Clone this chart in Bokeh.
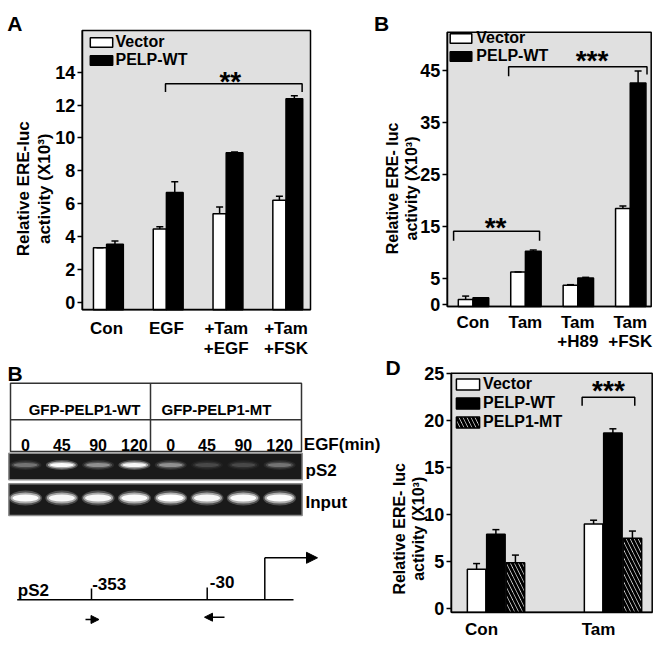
import numpy as np
from bokeh.plotting import figure
from bokeh.models import (Range1d, FixedTicker, Whisker, TeeHead, ColumnDataSource,
                          Legend, LegendItem, LinearAxis, Arrow, NormalHead)
from bokeh.core.properties import value
from bokeh.embed import file_html
from bokeh.resources import INLINE

FONT = "Liberation Sans"
FRAME_BG = "#e0e0e0"

# ---------------- data: panel A ----------------
a_categories = ["Con", "EGF", "+Tam\n+EGF", "+Tam\n+FSK"]
a_vector = [3.33, 4.47, 5.39, 6.22]
a_vector_err = [0.0, 0.13, 0.42, 0.24]
a_pelp = [3.54, 6.69, 9.10, 12.38]
a_pelp_err = [0.20, 0.65, 0.05, 0.18]
a_yticks = [0, 2, 4, 6, 8, 10, 12, 14]

# ---------------- data: panel B (top right) ----------------
b_categories = ["Con", "Tam", "Tam\n+H89", "Tam\n+FSK"]
b_vector = [1.03, 6.30, 3.73, 18.5]
b_vector_err = [0.64, 0.0, 0.13, 0.45]
b_pelp = [1.35, 10.3, 5.14, 42.6]
b_pelp_err = [0.0, 0.2, 0.13, 2.3]
b_yticks = [0, 5, 15, 25, 35, 45]

# ---------------- data: panel D ----------------
d_categories = ["Con", "Tam"]
d_vector = [4.2, 9.0]
d_vector_err = [0.6, 0.4]
d_pelp = [7.9, 18.65]
d_pelp_err = [0.5, 0.45]
d_mt = [4.9, 7.5]
d_mt_err = [0.8, 0.75]
d_yticks = [0, 5, 10, 15, 20, 25]

# ---------------- data: ChIP gel ----------------
gel_groups = ["GFP-PELP1-WT", "GFP-PELP1-MT"]
gel_lanes = ["0", "45", "90", "120", "0", "45", "90", "120"]
ps2_intensity = [0.25, 0.95, 0.35, 0.90, 0.35, 0.12, 0.12, 0.25]
input_intensity = [0.95, 0.90, 0.90, 0.95, 1.0, 0.90, 0.95, 0.95]
primer_labels = ["-353", "-30"]

# ---------------- page canvas (page pixel coordinates) ----------------
PX0, PX1, PY0, PY1 = 0, 660, 0, 648
p = figure(width=PX1 - PX0, height=PY1 - PY0, min_border=0,
           x_range=Range1d(PX0, PX1), y_range=Range1d(PY1, PY0),
           x_axis_location=None, y_axis_location=None, outline_line_color=None,
           output_backend="svg", toolbar_location=None)
p.grid.visible = False
p.title.visible = False

# panel frames on the page: (left, right, top, bottom) and data extents at those edges
panels = {
    "A": dict(box=(81.7, 310.0, 30.0, 309.3), xv=(-0.408, 3.41), yv=(-0.44, 16.53)),
    "B": dict(box=(446.7, 650.7, 31.7, 306.0), xv=(-0.492, 3.40), yv=(-0.33, 52.34)),
    "D": dict(box=(450.7, 651.7, 372.7, 611.7), xv=(-0.259, 1.459), yv=(-0.36, 25.0)),
}

xr, yr = {}, {}
for name, cfg in panels.items():
    l, r, t, b = cfg["box"]
    (x0, x1), (y0, y1) = cfg["xv"], cfg["yv"]
    sx = (r - l) / (x1 - x0)
    sy = (b - t) / (y1 - y0)
    xr[name] = Range1d(x0 - (l - PX0) / sx, x1 + (PX1 - r) / sx)
    yr[name] = Range1d(y0 - (PY1 - b) / sy, y1 + (t - PY0) / sy)
p.extra_x_ranges = xr
p.extra_y_ranges = yr


def style_axis(ax, size="17px"):
    ax.minor_tick_line_color = None
    ax.major_tick_in = 0
    ax.axis_line_width = 1.5
    ax.major_tick_line_width = 1.5
    ax.major_label_text_font = FONT
    ax.major_label_text_font_style = "bold"
    ax.major_label_text_font_size = size
    ax.major_label_text_color = "black"


def make_panel(name, categories, yticks, x_standoff):
    cfg = panels[name]
    (x0, x1), (y0, y1) = cfg["xv"], cfg["yv"]
    p.quad(left=[x0], right=[x1], bottom=[y0], top=[y1], x_range_name=name,
           y_range_name=name, fill_color=FRAME_BG, line_color="black", line_width=1.5)
    yax = LinearAxis(x_range_name=name, y_range_name=name, fixed_location=x0,
                     bounds=(y0, y1), ticker=FixedTicker(ticks=yticks))
    style_axis(yax, "18px")
    yax.major_tick_out = 5
    yax.major_label_standoff = 2
    p.add_layout(yax, "left")
    xax = LinearAxis(x_range_name=name, y_range_name=name, fixed_location=y0,
                     bounds=(x0, x1), ticker=FixedTicker(ticks=list(range(len(categories)))))
    style_axis(xax, "17px")
    xax.major_label_overrides = {i: c for i, c in enumerate(categories)}
    xax.major_tick_out = 0
    xax.major_label_standoff = x_standoff
    xax.major_label_text_line_height = 1.05
    p.add_layout(xax, "below")


def add_bars(name, vals, errs, offset, width, **style):
    x = np.arange(len(vals)) + offset
    r = p.vbar(x=x, top=vals, bottom=panels[name]["yv"][0], width=width, line_width=1.5,
               line_color="black", x_range_name=name, y_range_name=name, **style)
    src = ColumnDataSource(dict(x=x, lower=vals, upper=np.array(vals) + np.array(errs)))
    p.add_layout(Whisker(base="x", lower="lower", upper="upper", source=src,
                         x_range_name=name, y_range_name=name, level="overlay",
                         dimension="height", line_width=1.5, line_color="black",
                         lower_head=None,
                         upper_head=TeeHead(size=7, line_width=1.5, line_color="black")))
    return r


def add_bracket(name, x0, x1, y, drop_l, drop_r, text, text_x, y_offset):
    p.line([x0, x0, x1, x1], [y - drop_l, y, y, y - drop_r], line_color="black",
           line_width=1.5, x_range_name=name, y_range_name=name)
    p.text(x=[text_x], y=[y], text=[text], text_font=value(FONT), text_font_style="bold",
           text_font_size="28px", text_align="center", text_baseline="alphabetic",
           y_offset=y_offset, text_color="black", x_range_name=name, y_range_name=name)


def add_legend(items, page_left, page_bottom, gw, gh, lh, standoff):
    lg = Legend(items=[LegendItem(label=l, renderers=[r]) for l, r in items],
                location=(page_left - PX0, PY1 - page_bottom), margin=0, padding=0,
                spacing=0, glyph_width=gw, glyph_height=gh, label_height=lh,
                label_standoff=standoff, label_text_font=FONT,
                label_text_font_style="bold", label_text_font_size="16px",
                label_text_color="black",
                background_fill_alpha=0, border_line_color=None)
    p.add_layout(lg)


def ptext(x, y, t, size, align="left", angle=0.0):
    p.text(x=x, y=y, text=t, text_font=value(FONT), text_font_style="bold",
           text_font_size=size, text_align=align, text_baseline="alphabetic",
           text_color="black", angle=angle)


# ================= Panel A =================
make_panel("A", a_categories, a_yticks, 9)
ra1 = add_bars("A", a_vector, a_vector_err, -0.11, 0.22, fill_color="white")
ra2 = add_bars("A", a_pelp, a_pelp_err, 0.14, 0.28, fill_color="black")
add_legend([("Vector", ra1), ("PELP-WT", ra2)], 86.5, 68.5, 28, 12, 18, 1)
add_bracket("A", 0.985, 3.27, 13.3, 0.5, 0.5, "**", 2.07, -2)

# ================= Panel B (top right) =================
make_panel("B", b_categories, b_yticks, 6)
rb1 = add_bars("B", b_vector, b_vector_err, -0.14, 0.28, fill_color="white")
rb2 = add_bars("B", b_pelp, b_pelp_err, 0.15, 0.30, fill_color="black")
add_legend([("Vector", rb1), ("PELP-WT", rb2)], 447.3, 65.1, 27, 12, 18, 2)
add_bracket("B", -0.37, 1.27, 14.1, 1.8, 1.8, "**", 0.43, -4)
add_bracket("B", 0.68, 3.32, 45.7, 1.8, 1.5, "***", 2.27, -6)

# ================= Panel D =================
make_panel("D", d_categories, d_yticks, 8)
rd1 = add_bars("D", d_vector, d_vector_err, -0.042, 0.158, fill_color="white")
rd2 = add_bars("D", d_pelp, d_pelp_err, 0.123, 0.158, fill_color="black")
rd3 = add_bars("D", d_mt, d_mt_err, 0.29, 0.158, fill_color="white",
               hatch_pattern="left_diagonal_line", hatch_color="black",
               hatch_weight=3, hatch_scale=8)
add_legend([("Vector", rd1), ("PELP-WT", rd2), ("PELP1-MT", rd3)], 453.1, 431.6, 29, 14, 19, 1)
add_bracket("D", 0.86, 1.31, 22.45, 0.9, 0.9, "***", 1.085, -7)

# ================= panel letters and y-axis titles =================
ptext([6.7, 373.5, 7, 385], [23.3, 23.3, 373.3, 366.7], ["A", "B", "B", "D"], "21px")
ptext([23.3, 44.0], [188.3, 188.3], ["Relative ERE-luc", "activity (X10\u00b3)"], "17px",
      align="center", angle=np.pi / 2)
ptext([391.5, 410.7], [188.0, 188.0], ["Relative ERE- luc", "activity (X10\u00b3)"], "16px",
      align="center", angle=np.pi / 2)
ptext([398.7, 418.0], [528.3, 528.3], ["Relative ERE- luc", "activity (X10\u00b3)"], "16px",
      align="center", angle=np.pi / 2)

# ================= ChIP gel =================
lane_x = 25 + 36.3 * np.arange(len(gel_lanes))

p.quad(left=[10], right=[301], top=[382.7], bottom=[451], fill_color="white",
       line_color="#333333", line_width=1.5)
p.segment(x0=[10, 150], y0=[419.3, 382.7], x1=[301, 150], y1=[419.3, 451],
          line_color="#333333", line_width=1.5)
ptext([84, 216], [409.3, 409.3], gel_groups, "15px", align="center")
ptext(list(lane_x), [444] * len(gel_lanes), gel_lanes, "16px", align="center")
ptext([303.3], [444], ["EGF(min)"], "17px")

p.quad(left=[8.3, 8.3], right=[301.7, 301.7], top=[452.7, 483.3], bottom=[479.3, 515],
       fill_color="#1a1a1a", line_color="#8c8c8c", line_width=1.5)
ps2_y = 464.5
in_y = 497.5
ps2_i = np.array(ps2_intensity)
in_i = np.array(input_intensity)
for w, h, a in [(32, 10, 0.25), (28, 7, 0.55), (24, 4, 1.0)]:
    p.ellipse(x=lane_x, y=ps2_y, width=w, height=h, fill_color="white",
              fill_alpha=a * ps2_i, line_color=None)
for w, h, a in [(33, 15, 0.25), (30, 11, 0.55), (26, 7, 1.0)]:
    p.ellipse(x=lane_x, y=in_y, width=w, height=h, fill_color="white",
              fill_alpha=a * in_i, line_color=None)
ptext([305, 305], [470, 501.7], ["pS2", "Input"], "17px")

# ================= pS2 promoter map =================
p.segment(x0=[16.7, 91, 206.7, 264.3], y0=[599.3, 599.3, 599.3, 599.3],
          x1=[293, 91, 206.7, 264.3], y1=[599.3, 588, 587, 557.3],
          line_color="black", line_width=1.5)
p.add_layout(Arrow(x_start=264.3, y_start=557.3, x_end=317, y_end=557.3,
                   line_width=1.5, line_color="black",
                   end=NormalHead(size=11, fill_color="black", line_color="black")))
p.add_layout(Arrow(x_start=85, y_start=619, x_end=98.5, y_end=619,
                   line_width=1.5, line_color="black",
                   end=NormalHead(size=8, fill_color="black", line_color="black")))
p.add_layout(Arrow(x_start=224, y_start=616.7, x_end=204, y_end=616.7,
                   line_width=1.5, line_color="black",
                   end=NormalHead(size=8, fill_color="black", line_color="black")))
ptext([17.3], [590], ["pS2"], "17px")
ptext([91.7, 209.3], [583.3, 581.7], primer_labels, "17px")

with open("out.html", "w") as f:
    f.write(file_html(p, INLINE))
